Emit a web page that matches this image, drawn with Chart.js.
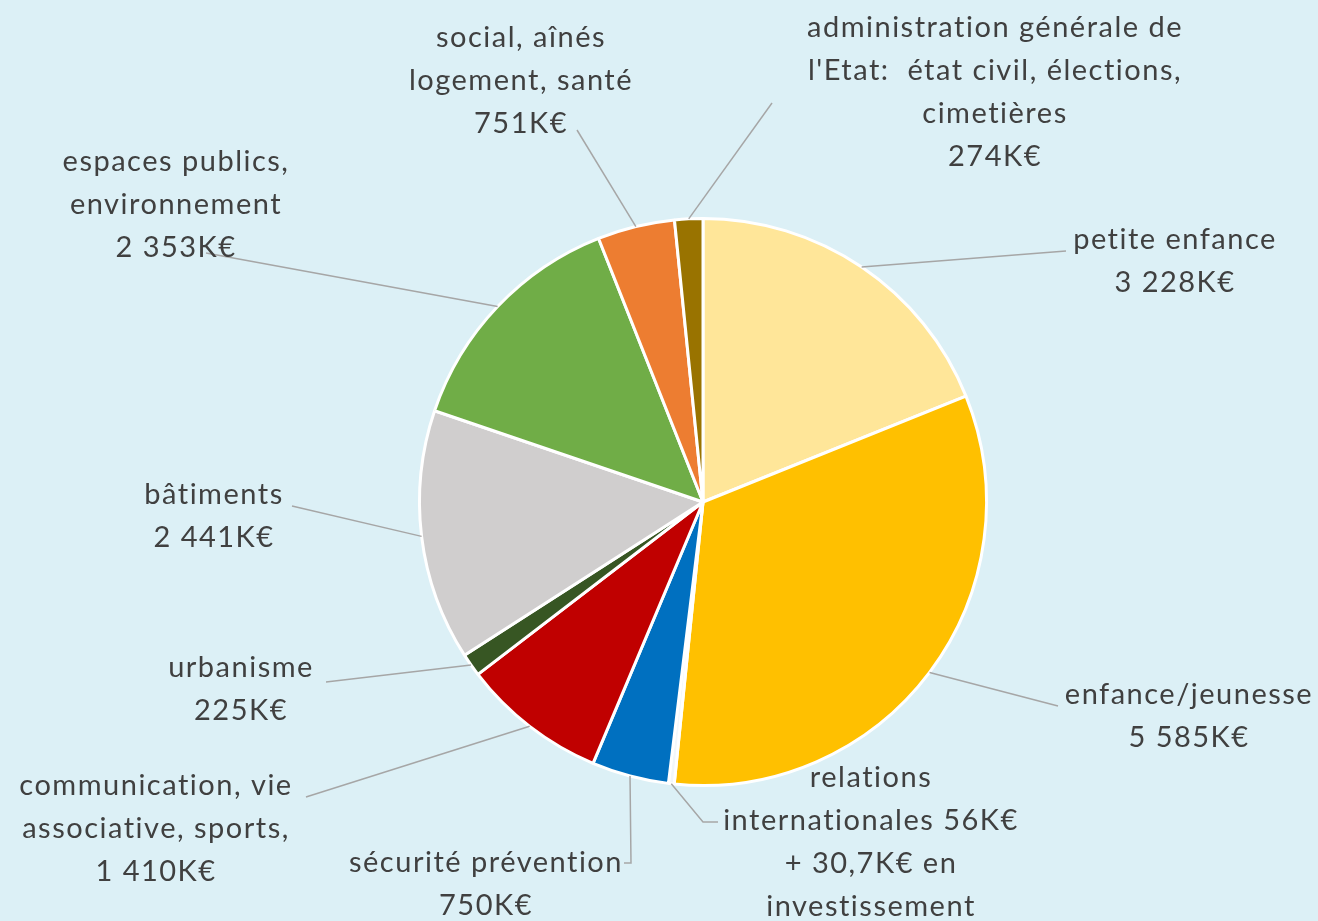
<!DOCTYPE html>
<html>
<head>
<meta charset="utf-8">
<script src="https://cdn.jsdelivr.net/npm/chart.js@4"></script>
<style>
  html, body { margin: 0; padding: 0; background: #dcf0f6; }
  #wrap { width: 1318px; height: 921px; }
</style>
</head>
<body>
<div id="wrap"><canvas id="budgetChart" width="1318" height="921"></canvas></div>
<script>
// Data (K€), clockwise from 12 o'clock
const categories = [
    'petite enfance',
    'enfance/jeunesse',
    'relations internationales',
    'sécurité prévention',
    'communication, vie associative, sports',
    'urbanisme',
    'bâtiments',
    'espaces publics, environnement',
    'social, aînés logement, santé',
    "administration générale de l'Etat"
];
const amounts = [3228, 5585, 56, 750, 1410, 225, 2441, 2353, 751, 274];
const labelLines = [
    ['petite enfance', '3 228K€'],
    ['enfance/jeunesse', '5 585K€'],
    ['relations', 'internationales 56K€', '+ 30,7K€ en', 'investissement'],
    ['sécurité prévention', '750K€'],
    ['communication, vie', 'associative, sports,', '1 410K€'],
    ['urbanisme', '225K€'],
    ['bâtiments', '2 441K€'],
    ['espaces publics,', 'environnement', '2 353K€'],
    ['social, aînés', 'logement, santé', '751K€'],
    ['administration générale de', "l'Etat:  état civil, élections,", 'cimetières', '274K€']
];
const sliceColors = ['#ffe699', '#ffc000', '#f2f7fb', '#0070c0', '#c00000', '#375623', '#d0cece', '#70ad47', '#ed7d31', '#997300'];

// where each label block sits (center x, first line y) and the leader line path to it
const labelLayout = [
    { x: 1174, y: 240, path: [[1066, 251]] },
    { x: 1188, y: 695, path: [[1058, 706]] },
    { x: 870, y: 778, path: [[703, 822], [718, 822]] },
    { x: 485, y: 863, path: [[631, 863], [624, 863]] },
    { x: 155, y: 786, path: [[306, 797]] },
    { x: 240, y: 668, path: [[326, 682]] },
    { x: 213, y: 495, path: [[292, 506]] },
    { x: 175, y: 162, path: [[206, 253]] },
    { x: 520, y: 38, path: [[577, 130]] },
    { x: 994, y: 28, path: [[772, 103]] }
];

const leaderLabels = {
    id: 'leaderLabels',
    afterDatasetsDraw(chart) {
        const ctx = chart.ctx;
        const arcs = chart.getDatasetMeta(0).data;
        ctx.save();
        arcs.forEach((arc, i) => {
            const p = arc.getProps(['x', 'y', 'startAngle', 'endAngle', 'outerRadius'], true);
            const mid = (p.startAngle + p.endAngle) / 2;
            const sx = p.x + Math.cos(mid) * p.outerRadius;
            const sy = p.y + Math.sin(mid) * p.outerRadius;
            ctx.strokeStyle = '#a6a6a6';
            ctx.lineWidth = 1.5;
            ctx.beginPath();
            ctx.moveTo(sx, sy);
            labelLayout[i].path.forEach(pt => ctx.lineTo(pt[0], pt[1]));
            ctx.stroke();

            ctx.fillStyle = '#404040';
            ctx.font = '29px Lato, "Open Sans", sans-serif';
            ctx.letterSpacing = '1.5px';
            ctx.textAlign = 'center';
            ctx.textBaseline = 'middle';
            labelLines[i].forEach((line, j) => {
                ctx.fillText(line, labelLayout[i].x + 1, labelLayout[i].y + j * 43);
            });
        });
        ctx.restore();
    }
};

const ctx = document.getElementById('budgetChart').getContext('2d');
new Chart(ctx, {
    type: 'pie',
    data: {
        labels: categories,
        datasets: [{
            data: amounts,
            backgroundColor: sliceColors,
            borderColor: '#ffffff',
            borderWidth: 3
        }]
    },
    options: {
        responsive: false,
        animation: false,
        layout: {
            padding: { left: 418, right: 330, top: 217, bottom: 134 }
        },
        plugins: {
            legend: { display: false },
            tooltip: { enabled: false }
        }
    },
    plugins: [leaderLabels]
});
</script>
</body>
</html>
